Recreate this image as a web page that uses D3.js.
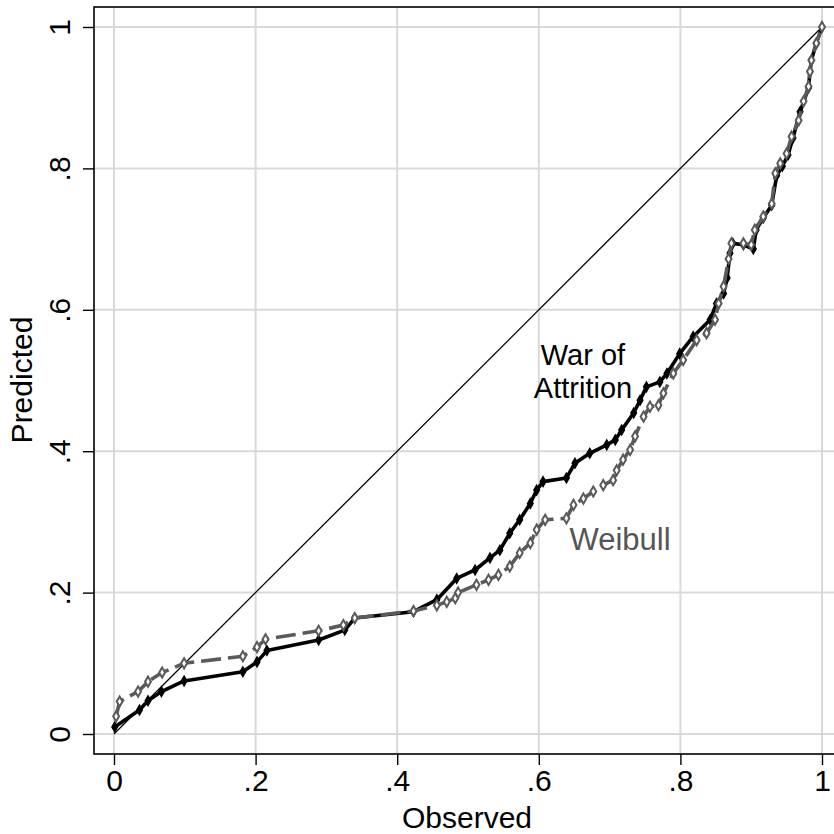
<!DOCTYPE html>
<html>
<head>
<meta charset="utf-8">
<script src="https://cdn.jsdelivr.net/npm/d3@7"></script>
<style>
  html, body { margin: 0; padding: 0; background: #fff; }
  svg { display: block; font-family: "Liberation Sans", Arial, sans-serif; }
</style>
</head>
<body>
<svg id="chart" width="834" height="834"></svg>
<script>
// Tick values and their labels (Stata style, no leading zero)
var tickValues = [0, 0.2, 0.4, 0.6, 0.8, 1];
var tickLabels = ["0", ".2", ".4", ".6", ".8", "1"];

// War of Attrition series (observed vs predicted)
var warObserved = [0.001, 0.036, 0.048, 0.067, 0.099, 0.182, 0.202, 0.216, 0.289, 0.326,
  0.340, 0.423, 0.456, 0.484, 0.510, 0.531, 0.545, 0.559, 0.573, 0.588,
  0.597, 0.606, 0.639, 0.651, 0.672, 0.696, 0.708, 0.717, 0.734, 0.743,
  0.752, 0.771, 0.781, 0.799, 0.818, 0.842, 0.851, 0.861, 0.866, 0.870,
  0.874, 0.889, 0.903, 0.907, 0.917, 0.929, 0.936, 0.944, 0.952, 0.959,
  0.969, 0.981, 0.983, 0.985, 0.992, 1.0];
var warPredicted = [0.010, 0.034, 0.047, 0.060, 0.075, 0.088, 0.102, 0.118, 0.133, 0.147,
  0.164, 0.173, 0.190, 0.220, 0.232, 0.249, 0.260, 0.284, 0.303, 0.326,
  0.345, 0.357, 0.362, 0.383, 0.397, 0.409, 0.416, 0.430, 0.454, 0.472,
  0.491, 0.498, 0.510, 0.538, 0.562, 0.586, 0.609, 0.623, 0.645, 0.680,
  0.694, 0.692, 0.686, 0.713, 0.730, 0.748, 0.790, 0.803, 0.819, 0.843,
  0.880, 0.914, 0.937, 0.953, 0.977, 1.0];

// Weibull series
var weibObserved = [0.003, 0.008, 0.034, 0.048, 0.068, 0.099, 0.182, 0.202, 0.214, 0.289,
  0.324, 0.340, 0.423, 0.456, 0.470, 0.482, 0.486, 0.512, 0.529, 0.543,
  0.559, 0.573, 0.588, 0.597, 0.609, 0.639, 0.649, 0.663, 0.677, 0.691,
  0.705, 0.710, 0.719, 0.729, 0.736, 0.748, 0.757, 0.769, 0.776, 0.790,
  0.804, 0.823, 0.837, 0.849, 0.854, 0.861, 0.868, 0.872, 0.889, 0.900,
  0.905, 0.917, 0.929, 0.934, 0.941, 0.950, 0.957, 0.967, 0.974, 0.981,
  0.983, 0.985, 0.992, 1.0];
var weibPredicted = [0.025, 0.046, 0.060, 0.074, 0.087, 0.100, 0.110, 0.123, 0.134, 0.146,
  0.154, 0.164, 0.174, 0.182, 0.187, 0.192, 0.200, 0.211, 0.218, 0.225,
  0.237, 0.256, 0.270, 0.289, 0.303, 0.305, 0.324, 0.333, 0.343, 0.352,
  0.359, 0.373, 0.388, 0.402, 0.421, 0.449, 0.463, 0.465, 0.482, 0.510,
  0.529, 0.557, 0.567, 0.586, 0.609, 0.633, 0.672, 0.694, 0.694, 0.692,
  0.713, 0.732, 0.750, 0.793, 0.807, 0.821, 0.845, 0.868, 0.895, 0.916,
  0.937, 0.953, 0.977, 1.0];

var svg = d3.select("#chart");

// scales: data 0..1 onto the plot region
var x = d3.scaleLinear().domain([0, 1]).range([114, 822]);
var y = d3.scaleLinear().domain([0, 1]).range([734, 27]);

// frame of the plot region (right side runs off the picture)
var frame = { left: 94, top: 7, right: 844, bottom: 754 };

// gridlines
svg.append("g").selectAll("line.vg")
  .data(tickValues).enter().append("line")
  .attr("x1", function(d) { return x(d); })
  .attr("x2", function(d) { return x(d); })
  .attr("y1", frame.top).attr("y2", frame.bottom)
  .attr("stroke", "#d9d9d9").attr("stroke-width", 2);
svg.append("g").selectAll("line.hg")
  .data(tickValues).enter().append("line")
  .attr("y1", function(d) { return y(d); })
  .attr("y2", function(d) { return y(d); })
  .attr("x1", frame.left).attr("x2", frame.right)
  .attr("stroke", "#d9d9d9").attr("stroke-width", 2);

// frame lines
svg.append("rect")
  .attr("x", frame.left).attr("y", frame.top)
  .attr("width", frame.right - frame.left)
  .attr("height", frame.bottom - frame.top)
  .attr("fill", "none").attr("stroke", "#000").attr("stroke-width", 1.6);

// axes
var xAxis = d3.axisBottom(x).tickValues(tickValues)
  .tickFormat(function(d, i) { return tickLabels[i]; })
  .tickSize(11).tickPadding(5);
var gx = svg.append("g").attr("transform", "translate(0," + frame.bottom + ")").call(xAxis);
gx.select(".domain").remove();
gx.selectAll("line").attr("stroke", "#000").attr("stroke-width", 1.4);
gx.selectAll("text").attr("font-size", 30).attr("fill", "#000")
  .attr("font-family", "Liberation Sans, Arial, sans-serif");

var yAxis = d3.axisLeft(y).tickValues(tickValues)
  .tickFormat(function(d, i) { return tickLabels[i]; })
  .tickSize(11);
var gy = svg.append("g").attr("transform", "translate(" + frame.left + ",0)").call(yAxis);
gy.select(".domain").remove();
gy.selectAll("line").attr("stroke", "#000").attr("stroke-width", 1.4);
// rotated tick labels, read bottom to top
gy.selectAll("text")
  .attr("font-size", 30).attr("fill", "#000")
  .attr("font-family", "Liberation Sans, Arial, sans-serif")
  .attr("x", null).attr("dy", null)
  .attr("text-anchor", "middle")
  .attr("transform", "translate(-24,0) rotate(-90)");

// axis titles
svg.append("text").attr("x", 467).attr("y", 828)
  .attr("text-anchor", "middle").attr("font-size", 30).text("Observed");
svg.append("text")
  .attr("transform", "translate(32,380) rotate(-90)")
  .attr("text-anchor", "middle").attr("font-size", 30).text("Predicted");

// 45 degree reference line
svg.append("line")
  .attr("x1", x(0)).attr("y1", y(0)).attr("x2", x(1)).attr("y2", y(1))
  .attr("stroke", "#000").attr("stroke-width", 1.3);

var line = d3.line()
  .x(function(d) { return x(d[0]); })
  .y(function(d) { return y(d[1]); });

var warData = d3.zip(warObserved, warPredicted);
var weibData = d3.zip(weibObserved, weibPredicted);
var diamond = d3.symbol().type(d3.symbolDiamond).size(30);

// War of Attrition: solid black line with filled diamonds
svg.append("path").datum(warData)
  .attr("d", line).attr("fill", "none")
  .attr("stroke", "#000").attr("stroke-width", 3.6)
  .attr("stroke-linejoin", "round");
svg.append("g").selectAll("path")
  .data(warData).enter().append("path")
  .attr("d", diamond)
  .attr("transform", function(d) { return "translate(" + x(d[0]) + "," + y(d[1]) + ")"; })
  .attr("fill", "#000").attr("stroke", "#000").attr("stroke-width", 1.2);

// Weibull: dashed gray line with hollow diamonds
svg.append("path").datum(weibData)
  .attr("d", line).attr("fill", "none")
  .attr("stroke", "#5a5a5a").attr("stroke-width", 3.6)
  .attr("stroke-dasharray", "20,7");
svg.append("g").selectAll("path")
  .data(weibData).enter().append("path")
  .attr("d", diamond)
  .attr("transform", function(d) { return "translate(" + x(d[0]) + "," + y(d[1]) + ")"; })
  .attr("fill", "#fff").attr("stroke", "#5a5a5a").attr("stroke-width", 2);

// series labels
svg.append("text").attr("x", 583).attr("y", 365)
  .attr("text-anchor", "middle").attr("font-size", 29).attr("fill", "#000").text("War of");
svg.append("text").attr("x", 583).attr("y", 398)
  .attr("text-anchor", "middle").attr("font-size", 29).attr("fill", "#000").text("Attrition");
svg.append("text").attr("x", 620).attr("y", 550)
  .attr("text-anchor", "middle").attr("font-size", 31).attr("fill", "#555").text("Weibull");
</script>
</body>
</html>
